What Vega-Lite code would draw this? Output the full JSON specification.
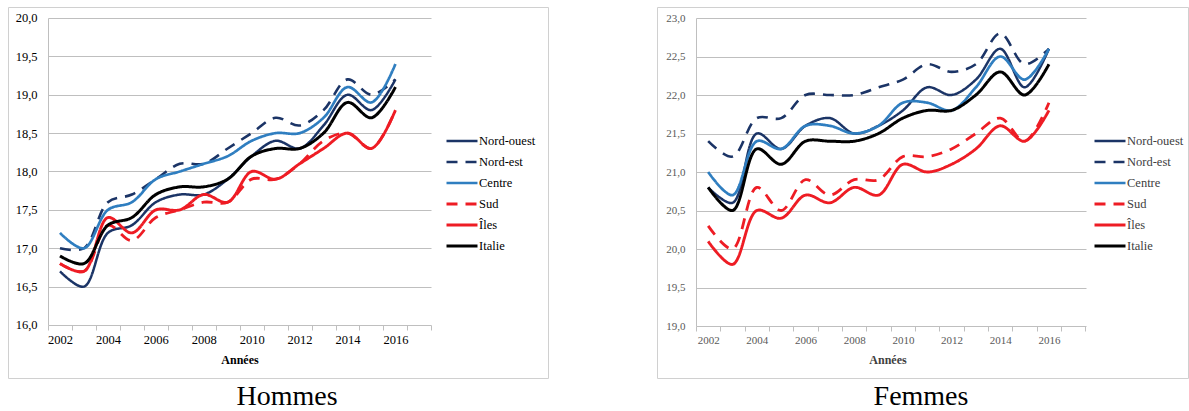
{
  "$schema": "https://vega.github.io/schema/vega-lite/v6.json",
  "background": "white",
  "padding": {"left": 7, "top": 6, "right": 0, "bottom": 0},
  "spacing": 107,
  "datasets": {
    "hommes": [
      {"region": "Nord-ouest", "annee": 2002, "valeur": 16.7}, {"region": "Nord-ouest", "annee": 2003, "valeur": 16.5}, {"region": "Nord-ouest", "annee": 2004, "valeur": 17.2}, {"region": "Nord-ouest", "annee": 2005, "valeur": 17.3}, {"region": "Nord-ouest", "annee": 2006, "valeur": 17.6}, {"region": "Nord-ouest", "annee": 2007, "valeur": 17.7}, {"region": "Nord-ouest", "annee": 2008, "valeur": 17.7}, {"region": "Nord-ouest", "annee": 2009, "valeur": 17.9}, {"region": "Nord-ouest", "annee": 2010, "valeur": 18.2}, {"region": "Nord-ouest", "annee": 2011, "valeur": 18.4}, {"region": "Nord-ouest", "annee": 2012, "valeur": 18.3}, {"region": "Nord-ouest", "annee": 2013, "valeur": 18.6}, {"region": "Nord-ouest", "annee": 2014, "valeur": 19.0}, {"region": "Nord-ouest", "annee": 2015, "valeur": 18.8}, {"region": "Nord-ouest", "annee": 2016, "valeur": 19.2},
      {"region": "Nord-est", "annee": 2002, "valeur": 17.0}, {"region": "Nord-est", "annee": 2003, "valeur": 17.0}, {"region": "Nord-est", "annee": 2004, "valeur": 17.6}, {"region": "Nord-est", "annee": 2005, "valeur": 17.7}, {"region": "Nord-est", "annee": 2006, "valeur": 17.9}, {"region": "Nord-est", "annee": 2007, "valeur": 18.1}, {"region": "Nord-est", "annee": 2008, "valeur": 18.1}, {"region": "Nord-est", "annee": 2009, "valeur": 18.3}, {"region": "Nord-est", "annee": 2010, "valeur": 18.5}, {"region": "Nord-est", "annee": 2011, "valeur": 18.7}, {"region": "Nord-est", "annee": 2012, "valeur": 18.6}, {"region": "Nord-est", "annee": 2013, "valeur": 18.8}, {"region": "Nord-est", "annee": 2014, "valeur": 19.2}, {"region": "Nord-est", "annee": 2015, "valeur": 19.0}, {"region": "Nord-est", "annee": 2016, "valeur": 19.2},
      {"region": "Centre", "annee": 2002, "valeur": 17.2}, {"region": "Centre", "annee": 2003, "valeur": 17.0}, {"region": "Centre", "annee": 2004, "valeur": 17.5}, {"region": "Centre", "annee": 2005, "valeur": 17.6}, {"region": "Centre", "annee": 2006, "valeur": 17.9}, {"region": "Centre", "annee": 2007, "valeur": 18.0}, {"region": "Centre", "annee": 2008, "valeur": 18.1}, {"region": "Centre", "annee": 2009, "valeur": 18.2}, {"region": "Centre", "annee": 2010, "valeur": 18.4}, {"region": "Centre", "annee": 2011, "valeur": 18.5}, {"region": "Centre", "annee": 2012, "valeur": 18.5}, {"region": "Centre", "annee": 2013, "valeur": 18.7}, {"region": "Centre", "annee": 2014, "valeur": 19.1}, {"region": "Centre", "annee": 2015, "valeur": 18.9}, {"region": "Centre", "annee": 2016, "valeur": 19.4},
      {"region": "Sud", "annee": 2002, "valeur": 16.8}, {"region": "Sud", "annee": 2003, "valeur": 16.7}, {"region": "Sud", "annee": 2004, "valeur": 17.3}, {"region": "Sud", "annee": 2005, "valeur": 17.1}, {"region": "Sud", "annee": 2006, "valeur": 17.4}, {"region": "Sud", "annee": 2007, "valeur": 17.5}, {"region": "Sud", "annee": 2008, "valeur": 17.6}, {"region": "Sud", "annee": 2009, "valeur": 17.6}, {"region": "Sud", "annee": 2010, "valeur": 17.9}, {"region": "Sud", "annee": 2011, "valeur": 17.9}, {"region": "Sud", "annee": 2012, "valeur": 18.1}, {"region": "Sud", "annee": 2013, "valeur": 18.4}, {"region": "Sud", "annee": 2014, "valeur": 18.5}, {"region": "Sud", "annee": 2015, "valeur": 18.3}, {"region": "Sud", "annee": 2016, "valeur": 18.8},
      {"region": "Îles", "annee": 2002, "valeur": 16.8}, {"region": "Îles", "annee": 2003, "valeur": 16.7}, {"region": "Îles", "annee": 2004, "valeur": 17.4}, {"region": "Îles", "annee": 2005, "valeur": 17.2}, {"region": "Îles", "annee": 2006, "valeur": 17.5}, {"region": "Îles", "annee": 2007, "valeur": 17.5}, {"region": "Îles", "annee": 2008, "valeur": 17.7}, {"region": "Îles", "annee": 2009, "valeur": 17.6}, {"region": "Îles", "annee": 2010, "valeur": 18.0}, {"region": "Îles", "annee": 2011, "valeur": 17.9}, {"region": "Îles", "annee": 2012, "valeur": 18.1}, {"region": "Îles", "annee": 2013, "valeur": 18.3}, {"region": "Îles", "annee": 2014, "valeur": 18.5}, {"region": "Îles", "annee": 2015, "valeur": 18.3}, {"region": "Îles", "annee": 2016, "valeur": 18.8},
      {"region": "Italie", "annee": 2002, "valeur": 16.9}, {"region": "Italie", "annee": 2003, "valeur": 16.8}, {"region": "Italie", "annee": 2004, "valeur": 17.3}, {"region": "Italie", "annee": 2005, "valeur": 17.4}, {"region": "Italie", "annee": 2006, "valeur": 17.7}, {"region": "Italie", "annee": 2007, "valeur": 17.8}, {"region": "Italie", "annee": 2008, "valeur": 17.8}, {"region": "Italie", "annee": 2009, "valeur": 17.9}, {"region": "Italie", "annee": 2010, "valeur": 18.2}, {"region": "Italie", "annee": 2011, "valeur": 18.3}, {"region": "Italie", "annee": 2012, "valeur": 18.3}, {"region": "Italie", "annee": 2013, "valeur": 18.5}, {"region": "Italie", "annee": 2014, "valeur": 18.9}, {"region": "Italie", "annee": 2015, "valeur": 18.7}, {"region": "Italie", "annee": 2016, "valeur": 19.1}
    ],
    "femmes": [
      {"region": "Nord-ouest", "annee": 2002, "valeur": 20.8}, {"region": "Nord-ouest", "annee": 2003, "valeur": 20.6}, {"region": "Nord-ouest", "annee": 2004, "valeur": 21.5}, {"region": "Nord-ouest", "annee": 2005, "valeur": 21.3}, {"region": "Nord-ouest", "annee": 2006, "valeur": 21.6}, {"region": "Nord-ouest", "annee": 2007, "valeur": 21.7}, {"region": "Nord-ouest", "annee": 2008, "valeur": 21.5}, {"region": "Nord-ouest", "annee": 2009, "valeur": 21.6}, {"region": "Nord-ouest", "annee": 2010, "valeur": 21.8}, {"region": "Nord-ouest", "annee": 2011, "valeur": 22.1}, {"region": "Nord-ouest", "annee": 2012, "valeur": 22.0}, {"region": "Nord-ouest", "annee": 2013, "valeur": 22.2}, {"region": "Nord-ouest", "annee": 2014, "valeur": 22.6}, {"region": "Nord-ouest", "annee": 2015, "valeur": 22.1}, {"region": "Nord-ouest", "annee": 2016, "valeur": 22.6},
      {"region": "Nord-est", "annee": 2002, "valeur": 21.4}, {"region": "Nord-est", "annee": 2003, "valeur": 21.2}, {"region": "Nord-est", "annee": 2004, "valeur": 21.7}, {"region": "Nord-est", "annee": 2005, "valeur": 21.7}, {"region": "Nord-est", "annee": 2006, "valeur": 22.0}, {"region": "Nord-est", "annee": 2007, "valeur": 22.0}, {"region": "Nord-est", "annee": 2008, "valeur": 22.0}, {"region": "Nord-est", "annee": 2009, "valeur": 22.1}, {"region": "Nord-est", "annee": 2010, "valeur": 22.2}, {"region": "Nord-est", "annee": 2011, "valeur": 22.4}, {"region": "Nord-est", "annee": 2012, "valeur": 22.3}, {"region": "Nord-est", "annee": 2013, "valeur": 22.4}, {"region": "Nord-est", "annee": 2014, "valeur": 22.8}, {"region": "Nord-est", "annee": 2015, "valeur": 22.4}, {"region": "Nord-est", "annee": 2016, "valeur": 22.6},
      {"region": "Centre", "annee": 2002, "valeur": 21.0}, {"region": "Centre", "annee": 2003, "valeur": 20.7}, {"region": "Centre", "annee": 2004, "valeur": 21.4}, {"region": "Centre", "annee": 2005, "valeur": 21.3}, {"region": "Centre", "annee": 2006, "valeur": 21.6}, {"region": "Centre", "annee": 2007, "valeur": 21.6}, {"region": "Centre", "annee": 2008, "valeur": 21.5}, {"region": "Centre", "annee": 2009, "valeur": 21.6}, {"region": "Centre", "annee": 2010, "valeur": 21.9}, {"region": "Centre", "annee": 2011, "valeur": 21.9}, {"region": "Centre", "annee": 2012, "valeur": 21.8}, {"region": "Centre", "annee": 2013, "valeur": 22.1}, {"region": "Centre", "annee": 2014, "valeur": 22.5}, {"region": "Centre", "annee": 2015, "valeur": 22.2}, {"region": "Centre", "annee": 2016, "valeur": 22.6},
      {"region": "Sud", "annee": 2002, "valeur": 20.3}, {"region": "Sud", "annee": 2003, "valeur": 20.0}, {"region": "Sud", "annee": 2004, "valeur": 20.8}, {"region": "Sud", "annee": 2005, "valeur": 20.5}, {"region": "Sud", "annee": 2006, "valeur": 20.9}, {"region": "Sud", "annee": 2007, "valeur": 20.7}, {"region": "Sud", "annee": 2008, "valeur": 20.9}, {"region": "Sud", "annee": 2009, "valeur": 20.9}, {"region": "Sud", "annee": 2010, "valeur": 21.2}, {"region": "Sud", "annee": 2011, "valeur": 21.2}, {"region": "Sud", "annee": 2012, "valeur": 21.3}, {"region": "Sud", "annee": 2013, "valeur": 21.5}, {"region": "Sud", "annee": 2014, "valeur": 21.7}, {"region": "Sud", "annee": 2015, "valeur": 21.4}, {"region": "Sud", "annee": 2016, "valeur": 21.9},
      {"region": "Îles", "annee": 2002, "valeur": 20.1}, {"region": "Îles", "annee": 2003, "valeur": 19.8}, {"region": "Îles", "annee": 2004, "valeur": 20.5}, {"region": "Îles", "annee": 2005, "valeur": 20.4}, {"region": "Îles", "annee": 2006, "valeur": 20.7}, {"region": "Îles", "annee": 2007, "valeur": 20.6}, {"region": "Îles", "annee": 2008, "valeur": 20.8}, {"region": "Îles", "annee": 2009, "valeur": 20.7}, {"region": "Îles", "annee": 2010, "valeur": 21.1}, {"region": "Îles", "annee": 2011, "valeur": 21.0}, {"region": "Îles", "annee": 2012, "valeur": 21.1}, {"region": "Îles", "annee": 2013, "valeur": 21.3}, {"region": "Îles", "annee": 2014, "valeur": 21.6}, {"region": "Îles", "annee": 2015, "valeur": 21.4}, {"region": "Îles", "annee": 2016, "valeur": 21.8},
      {"region": "Italie", "annee": 2002, "valeur": 20.8}, {"region": "Italie", "annee": 2003, "valeur": 20.5}, {"region": "Italie", "annee": 2004, "valeur": 21.3}, {"region": "Italie", "annee": 2005, "valeur": 21.1}, {"region": "Italie", "annee": 2006, "valeur": 21.4}, {"region": "Italie", "annee": 2007, "valeur": 21.4}, {"region": "Italie", "annee": 2008, "valeur": 21.4}, {"region": "Italie", "annee": 2009, "valeur": 21.5}, {"region": "Italie", "annee": 2010, "valeur": 21.7}, {"region": "Italie", "annee": 2011, "valeur": 21.8}, {"region": "Italie", "annee": 2012, "valeur": 21.8}, {"region": "Italie", "annee": 2013, "valeur": 22.0}, {"region": "Italie", "annee": 2014, "valeur": 22.3}, {"region": "Italie", "annee": 2015, "valeur": 22.0}, {"region": "Italie", "annee": 2016, "valeur": 22.4}
    ]
  },
  "resolve": {"scale": {"color": "independent", "strokeDash": "independent", "strokeWidth": "independent"}, "legend": {"color": "independent", "strokeDash": "independent", "strokeWidth": "independent"}},
  "hconcat": [
    {
      "width": 540,
      "height": 371,
      "data": {"name": "hommes"},
      "title": {"text": "Hommes", "orient": "bottom", "anchor": "middle", "font": "Liberation Serif", "fontSize": 28, "fontWeight": "normal", "color": "#000000", "baseline": "bottom", "offset": 33, "dx": 9},
      "resolve": {"axis": {"x": "independent", "y": "independent"}},
      "layer": [
        {
          "transform": [{"filter": {"field": "region", "oneOf": ["Nord-ouest", "Nord-est", "Centre"]}}],
          "mark": {"type": "line", "interpolate": "catmull-rom", "strokeJoin": "round"},
          "encoding": {
            "x": {"field": "annee", "type": "quantitative", "scale": {"domain": [1999.8305, 2022.368], "nice": false, "zero": false},
              "axis": {"orient": "bottom", "offset": -53, "values": [2001.5, 2002.5, 2003.5, 2004.5, 2005.5, 2006.5, 2007.5, 2008.5, 2009.5, 2010.5, 2011.5, 2012.5, 2013.5, 2014.5, 2015.5, 2016.5, 2017.5], "labels": false, "domain": false, "grid": false, "ticks": true, "tickSize": 5, "tickColor": "#BFBFBF", "tickWidth": 1, "title": null}},
            "y": {"field": "valeur", "type": "quantitative", "scale": {"domain": [15.3094, 20.1433], "nice": false, "zero": false},
              "axis": {"orient": "left", "offset": -40, "values": [16, 16.5, 17, 17.5, 18, 18.5, 19, 19.5, 20], "domain": false, "grid": false, "ticks": true, "tickSize": -383, "tickColor": "#BFBFBF", "tickWidth": 1, "labelPadding": 394, "labelFlush": false, "labelOverlap": false, "labelExpr": "replace(format(datum.value, '.1f'), '.', ',')", "labelFont": "Liberation Serif", "labelFontSize": 12.5, "labelColor": "#000000", "title": null}},
            "color": {"field": "region", "type": "nominal", "scale": {"domain": ["Nord-ouest", "Nord-est", "Centre", "Sud", "Îles", "Italie"], "range": ["#1B3466", "#1B3466", "#2F7EC0", "#EE1C24", "#EE1C24", "#000000"]},
              "legend": {"title": null, "orient": "none", "legendX": 437, "legendY": 123.6, "padding": 0, "symbolType": "stroke", "symbolSize": 961, "clipHeight": 20.8, "labelFont": "Liberation Serif", "labelFontSize": 12.5, "labelColor": "#000000", "labelOffset": 0, "rowPadding": 0}},
            "strokeDash": {"field": "region", "type": "nominal", "scale": {"domain": ["Nord-ouest", "Nord-est", "Centre", "Sud", "Îles", "Italie"], "range": [[1, 0], [11, 8], [1, 0], [11, 8], [1, 0], [1, 0]]}},
            "strokeWidth": {"field": "region", "type": "nominal", "scale": {"domain": ["Nord-ouest", "Nord-est", "Centre", "Sud", "Îles", "Italie"], "range": [2.5, 3, 2.5, 3, 2.5, 5]}}
          }
        },
        {
          "transform": [{"filter": {"field": "region", "oneOf": ["Sud", "Îles"]}}],
          "mark": {"type": "line", "interpolate": "catmull-rom", "strokeJoin": "round"},
          "encoding": {
            "x": {"field": "annee", "type": "quantitative",
              "axis": {"orient": "bottom", "offset": -53, "values": [2002, 2004, 2006, 2008, 2010, 2012, 2014, 2016], "format": "d", "ticks": false, "domain": false, "grid": false, "labelPadding": 8, "labelFlush": false, "labelOverlap": false, "labelFont": "Liberation Serif", "labelFontSize": 12.5, "labelColor": "#000000", "title": "Années", "titleFont": "Liberation Serif", "titleFontSize": 12, "titleFontWeight": "bold", "titleColor": "#000000", "titleX": 231.5, "titleY": 34, "titleBaseline": "middle", "titleAlign": "center", "titleAnchor": null}},
            "y": {"field": "valeur", "type": "quantitative", "axis": null},
            "color": {"field": "region", "type": "nominal", "scale": {"domain": ["Nord-ouest", "Nord-est", "Centre", "Sud", "Îles", "Italie"], "range": ["#1B3466", "#1B3466", "#2F7EC0", "#EE1C24", "#EE1C24", "#000000"]},
              "legend": {"title": null, "orient": "none", "legendX": 437, "legendY": 123.6, "padding": 0, "symbolType": "stroke", "symbolSize": 961, "clipHeight": 20.8, "labelFont": "Liberation Serif", "labelFontSize": 12.5, "labelColor": "#000000", "labelOffset": 0, "rowPadding": 0}},
            "strokeDash": {"field": "region", "type": "nominal", "scale": {"domain": ["Nord-ouest", "Nord-est", "Centre", "Sud", "Îles", "Italie"], "range": [[1, 0], [11, 8], [1, 0], [11, 8], [1, 0], [1, 0]]}},
            "strokeWidth": {"field": "region", "type": "nominal", "scale": {"domain": ["Nord-ouest", "Nord-est", "Centre", "Sud", "Îles", "Italie"], "range": [2.5, 3, 2.5, 3, 2.5, 5]}}
          }
        },
        {
          "transform": [{"filter": {"field": "region", "equal": "Italie"}}],
          "mark": {"type": "line", "interpolate": "catmull-rom", "strokeJoin": "round"},
          "encoding": {
            "x": {"field": "annee", "type": "quantitative",
              "axis": {"orient": "bottom", "offset": -53, "values": [2001.5], "labels": false, "domain": false, "grid": false, "ticks": true, "tickSize": -307, "tickColor": "#BFBFBF", "tickWidth": 1, "title": null}},
            "y": {"field": "valeur", "type": "quantitative", "axis": null},
            "color": {"field": "region", "type": "nominal", "scale": {"domain": ["Nord-ouest", "Nord-est", "Centre", "Sud", "Îles", "Italie"], "range": ["#1B3466", "#1B3466", "#2F7EC0", "#EE1C24", "#EE1C24", "#000000"]},
              "legend": {"title": null, "orient": "none", "legendX": 437, "legendY": 123.6, "padding": 0, "symbolType": "stroke", "symbolSize": 961, "clipHeight": 20.8, "labelFont": "Liberation Serif", "labelFontSize": 12.5, "labelColor": "#000000", "labelOffset": 0, "rowPadding": 0}},
            "strokeDash": {"field": "region", "type": "nominal", "scale": {"domain": ["Nord-ouest", "Nord-est", "Centre", "Sud", "Îles", "Italie"], "range": [[1, 0], [11, 8], [1, 0], [11, 8], [1, 0], [1, 0]]}},
            "strokeWidth": {"field": "region", "type": "nominal", "scale": {"domain": ["Nord-ouest", "Nord-est", "Centre", "Sud", "Îles", "Italie"], "range": [2.5, 3, 2.5, 3, 2.5, 5]}}
          }
        }
      ]
    },
    {
      "width": 531,
      "height": 371,
      "data": {"name": "femmes"},
      "title": {"text": "Femmes", "orient": "bottom", "anchor": "middle", "font": "Liberation Serif", "fontSize": 28, "fontWeight": "normal", "color": "#000000", "baseline": "bottom", "offset": 33, "dx": -1.5},
      "resolve": {"axis": {"x": "independent", "y": "independent"}},
      "layer": [
        {
          "transform": [{"filter": {"field": "region", "oneOf": ["Nord-ouest", "Nord-est", "Centre"]}}],
          "mark": {"type": "line", "interpolate": "catmull-rom", "strokeJoin": "round"},
          "encoding": {
            "x": {"field": "annee", "type": "quantitative", "scale": {"domain": [1999.8977, 2021.714], "nice": false, "zero": false},
              "axis": {"orient": "bottom", "offset": -52, "values": [2001.5, 2002.5, 2003.5, 2004.5, 2005.5, 2006.5, 2007.5, 2008.5, 2009.5, 2010.5, 2011.5, 2012.5, 2013.5, 2014.5, 2015.5, 2016.5, 2017.5], "labels": false, "domain": false, "grid": false, "ticks": true, "tickSize": 5, "tickColor": "#BFBFBF", "tickWidth": 1, "title": null}},
            "y": {"field": "valeur", "type": "quantitative", "scale": {"domain": [18.3247, 23.1429], "nice": false, "zero": false},
              "axis": {"orient": "left", "offset": -39, "values": [19, 19.5, 20, 20.5, 21, 21.5, 22, 22.5, 23], "domain": false, "grid": false, "ticks": true, "tickSize": -390, "tickColor": "#BFBFBF", "tickWidth": 1, "labelPadding": 401, "labelFlush": false, "labelOverlap": false, "labelExpr": "replace(format(datum.value, '.1f'), '.', ',')", "labelFont": "Liberation Serif", "labelFontSize": 11, "labelColor": "#595959", "title": null}},
            "color": {"field": "region", "type": "nominal", "scale": {"domain": ["Nord-ouest", "Nord-est", "Centre", "Sud", "Îles", "Italie"], "range": ["#1B3466", "#1B3466", "#2F7EC0", "#EE1C24", "#EE1C24", "#000000"]},
              "legend": {"title": null, "orient": "none", "legendX": 436, "legendY": 123.6, "padding": 0, "symbolType": "stroke", "symbolSize": 961, "clipHeight": 20.8, "labelFont": "Liberation Serif", "labelFontSize": 12.5, "labelColor": "#404040", "labelOffset": 0, "rowPadding": 0}},
            "strokeDash": {"field": "region", "type": "nominal", "scale": {"domain": ["Nord-ouest", "Nord-est", "Centre", "Sud", "Îles", "Italie"], "range": [[1, 0], [11, 8], [1, 0], [11, 8], [1, 0], [1, 0]]}},
            "strokeWidth": {"field": "region", "type": "nominal", "scale": {"domain": ["Nord-ouest", "Nord-est", "Centre", "Sud", "Îles", "Italie"], "range": [2.5, 3, 2.5, 3, 2.5, 5]}}
          }
        },
        {
          "transform": [{"filter": {"field": "region", "oneOf": ["Sud", "Îles"]}}],
          "mark": {"type": "line", "interpolate": "catmull-rom", "strokeJoin": "round"},
          "encoding": {
            "x": {"field": "annee", "type": "quantitative",
              "axis": {"orient": "bottom", "offset": -52, "values": [2002, 2004, 2006, 2008, 2010, 2012, 2014, 2016], "format": "d", "ticks": false, "domain": false, "grid": false, "labelPadding": 8, "labelFlush": false, "labelOverlap": false, "labelFont": "Liberation Serif", "labelFontSize": 11, "labelColor": "#595959", "title": "Années", "titleFont": "Liberation Serif", "titleFontSize": 12, "titleFontWeight": "bold", "titleColor": "#404040", "titleX": 230.5, "titleY": 33, "titleBaseline": "middle", "titleAlign": "center", "titleAnchor": null}},
            "y": {"field": "valeur", "type": "quantitative", "axis": null},
            "color": {"field": "region", "type": "nominal", "scale": {"domain": ["Nord-ouest", "Nord-est", "Centre", "Sud", "Îles", "Italie"], "range": ["#1B3466", "#1B3466", "#2F7EC0", "#EE1C24", "#EE1C24", "#000000"]},
              "legend": {"title": null, "orient": "none", "legendX": 436, "legendY": 123.6, "padding": 0, "symbolType": "stroke", "symbolSize": 961, "clipHeight": 20.8, "labelFont": "Liberation Serif", "labelFontSize": 12.5, "labelColor": "#404040", "labelOffset": 0, "rowPadding": 0}},
            "strokeDash": {"field": "region", "type": "nominal", "scale": {"domain": ["Nord-ouest", "Nord-est", "Centre", "Sud", "Îles", "Italie"], "range": [[1, 0], [11, 8], [1, 0], [11, 8], [1, 0], [1, 0]]}},
            "strokeWidth": {"field": "region", "type": "nominal", "scale": {"domain": ["Nord-ouest", "Nord-est", "Centre", "Sud", "Îles", "Italie"], "range": [2.5, 3, 2.5, 3, 2.5, 5]}}
          }
        },
        {
          "transform": [{"filter": {"field": "region", "equal": "Italie"}}],
          "mark": {"type": "line", "interpolate": "catmull-rom", "strokeJoin": "round"},
          "encoding": {
            "x": {"field": "annee", "type": "quantitative",
              "axis": {"orient": "bottom", "offset": -52, "values": [2001.5], "labels": false, "domain": false, "grid": false, "ticks": true, "tickSize": -308, "tickColor": "#BFBFBF", "tickWidth": 1, "title": null}},
            "y": {"field": "valeur", "type": "quantitative", "axis": null},
            "color": {"field": "region", "type": "nominal", "scale": {"domain": ["Nord-ouest", "Nord-est", "Centre", "Sud", "Îles", "Italie"], "range": ["#1B3466", "#1B3466", "#2F7EC0", "#EE1C24", "#EE1C24", "#000000"]},
              "legend": {"title": null, "orient": "none", "legendX": 436, "legendY": 123.6, "padding": 0, "symbolType": "stroke", "symbolSize": 961, "clipHeight": 20.8, "labelFont": "Liberation Serif", "labelFontSize": 12.5, "labelColor": "#404040", "labelOffset": 0, "rowPadding": 0}},
            "strokeDash": {"field": "region", "type": "nominal", "scale": {"domain": ["Nord-ouest", "Nord-est", "Centre", "Sud", "Îles", "Italie"], "range": [[1, 0], [11, 8], [1, 0], [11, 8], [1, 0], [1, 0]]}},
            "strokeWidth": {"field": "region", "type": "nominal", "scale": {"domain": ["Nord-ouest", "Nord-est", "Centre", "Sud", "Îles", "Italie"], "range": [2.5, 3, 2.5, 3, 2.5, 5]}}
          }
        }
      ]
    }
  ],
  "config": {
    "view": {"stroke": "#D0D0D0", "strokeWidth": 1},
    "font": "Liberation Serif"
  }
}
